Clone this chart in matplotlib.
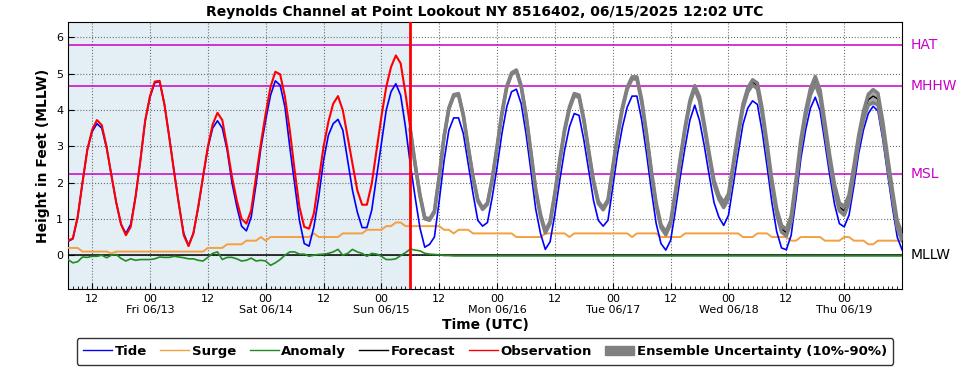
import numpy as np
import pandas as pd
import matplotlib
matplotlib.use('Agg')  # no display
import matplotlib.pyplot as plt
from matplotlib.lines import Line2D
from matplotlib.patches import Patch

# hours relative to 2025-06-12 12:00 UTC
hours = np.arange(-5, 169)
obs_end = 66

tide = [
    0.38, 0.45, 1.05, 2.0, 2.9, 3.4, 3.62, 3.5, 2.95, 2.2, 1.45, 0.85,
    0.6, 0.85, 1.6, 2.6, 3.7, 4.35, 4.75, 4.78, 4.15, 3.25, 2.3, 1.4,
    0.6, 0.27, 0.6, 1.3, 2.15, 2.95, 3.5, 3.7, 3.5, 2.9, 2.0, 1.35,
    0.8, 0.67, 1.05, 1.95, 2.95, 3.72, 4.4, 4.8, 4.68, 4.08, 2.98, 1.97,
    0.96, 0.32, 0.25, 0.78, 1.6, 2.6, 3.3, 3.62, 3.74, 3.44, 2.61, 1.79,
    1.19, 0.76, 0.76, 1.24, 2.16, 3.07, 3.99, 4.5, 4.72, 4.4, 3.53, 2.5,
    1.6, 0.75, 0.22, 0.3, 0.5, 1.5, 2.6, 3.44, 3.78, 3.78, 3.35, 2.52,
    1.7, 0.96, 0.8, 0.9, 1.6, 2.43, 3.35, 4.08, 4.5, 4.57, 4.17, 3.35,
    2.34, 1.28, 0.6, 0.16, 0.37, 1.15, 2.06, 2.89, 3.53, 3.9, 3.85, 3.17,
    2.34, 1.51, 0.96, 0.8, 0.96, 1.88, 2.8, 3.53, 4.08, 4.38, 4.38, 3.72,
    2.8, 1.79, 0.87, 0.32, 0.14, 0.41, 1.24, 2.16, 2.98, 3.72, 4.13, 3.7,
    3.0, 2.2, 1.45, 1.05, 0.82, 1.1, 1.95, 2.8, 3.6, 4.05, 4.25, 4.15,
    3.4, 2.45, 1.45, 0.65, 0.2, 0.15, 0.55, 1.55, 2.65, 3.45, 4.05, 4.35,
    3.97, 3.1, 2.2, 1.4, 0.87, 0.78, 1.1, 1.9, 2.8, 3.45, 3.9, 4.1,
    3.97, 3.2, 2.25, 1.33, 0.5, 0.15,
]

observation = [
    0.4, 0.46, 1.05, 2.0, 2.9, 3.45, 3.72, 3.58, 2.98, 2.2, 1.45, 0.85,
    0.55, 0.78, 1.6, 2.6, 3.7, 4.38, 4.78, 4.8, 4.15, 3.25, 2.3, 1.4,
    0.55, 0.25, 0.6, 1.33, 2.16, 2.98, 3.6, 3.92, 3.72, 2.98, 2.16, 1.51,
    1.0, 0.87, 1.24, 2.16, 3.07, 3.9, 4.63, 5.05, 4.98, 4.36, 3.44, 2.34,
    1.33, 0.78, 0.73, 1.15, 2.06, 2.98, 3.67, 4.17, 4.38, 3.99, 3.26, 2.52,
    1.79, 1.39, 1.39, 1.97, 2.89, 3.81, 4.63, 5.18, 5.5, 5.28, 4.45, 3.5,
]

surge = [
    0.2, 0.2, 0.2, 0.1, 0.1, 0.1, 0.1, 0.1, 0.1, 0.05, 0.1, 0.1,
    0.1, 0.1, 0.1, 0.1, 0.1, 0.1, 0.1, 0.1, 0.1, 0.1, 0.1, 0.1,
    0.1, 0.1, 0.1, 0.1, 0.1, 0.2, 0.2, 0.2, 0.2, 0.3, 0.3, 0.3,
    0.3, 0.4, 0.4, 0.4, 0.5, 0.4, 0.5, 0.5, 0.5, 0.5, 0.5, 0.5,
    0.5, 0.5, 0.5, 0.6, 0.5, 0.5, 0.5, 0.5, 0.5, 0.6, 0.6, 0.6,
    0.6, 0.6, 0.7, 0.7, 0.7, 0.7, 0.8, 0.8, 0.9, 0.9, 0.8, 0.8,
    0.8, 0.8, 0.8, 0.8, 0.8, 0.8, 0.7, 0.7, 0.6, 0.7, 0.7, 0.7,
    0.6, 0.6, 0.6, 0.6, 0.6, 0.6, 0.6, 0.6, 0.6, 0.5, 0.5, 0.5,
    0.5, 0.5, 0.5, 0.6, 0.6, 0.6, 0.6, 0.6, 0.5, 0.6, 0.6, 0.6,
    0.6, 0.6, 0.6, 0.6, 0.6, 0.6, 0.6, 0.6, 0.6, 0.5, 0.6, 0.6,
    0.6, 0.6, 0.6, 0.5, 0.5, 0.5, 0.5, 0.5, 0.6, 0.6, 0.6, 0.6,
    0.6, 0.6, 0.6, 0.6, 0.6, 0.6, 0.6, 0.6, 0.5, 0.5, 0.5, 0.6,
    0.6, 0.6, 0.5, 0.5, 0.5, 0.5, 0.4, 0.4, 0.5, 0.5, 0.5, 0.5,
    0.5, 0.4, 0.4, 0.4, 0.4, 0.5, 0.5, 0.4, 0.4, 0.4, 0.3, 0.3,
    0.4, 0.4, 0.4, 0.4, 0.4, 0.4,
]

anomaly = [
    -0.12, -0.21, -0.18, -0.05, -0.06, -0.03, -0.03, 0.0, -0.07, 0.0, 0.02, -0.09,
    -0.16, -0.1, -0.14, -0.12, -0.12, -0.12, -0.1, -0.05, -0.06, -0.06, -0.03, -0.05,
    -0.07, -0.1, -0.1, -0.14, -0.16, -0.06, 0.05, 0.09, -0.12, -0.06, -0.06, -0.1,
    -0.16, -0.14, -0.08, -0.16, -0.14, -0.16, -0.28, -0.21, -0.12, 0.0, 0.09, 0.09,
    0.03, 0.03, -0.03, 0.0, 0.02, 0.03, 0.05, 0.09, 0.16, 0.0, 0.05, 0.16,
    0.09, 0.05, -0.03, 0.05, 0.03, -0.03, -0.12, -0.12, -0.1, -0.01, 0.07, 0.17,
    0.14, 0.12, 0.05, 0.03, 0.02, 0.01, -0.01, -0.01, -0.02, -0.02, -0.02, -0.02,
    -0.02, -0.02, -0.02, -0.02, -0.02, -0.02, -0.02, -0.02, -0.02, -0.02, -0.02, -0.02,
    -0.02, -0.02, -0.02, -0.02, -0.02, -0.02, -0.02, -0.02, -0.02, -0.02, -0.02, -0.02,
    -0.02, -0.02, -0.02, -0.02, -0.02, -0.02, -0.02, -0.02, -0.02, -0.02, -0.02, -0.02,
    -0.02, -0.02, -0.02, -0.02, -0.02, -0.02, -0.02, -0.02, -0.02, -0.02, -0.02, -0.02,
    -0.02, -0.02, -0.02, -0.02, -0.02, -0.02, -0.02, -0.02, -0.02, -0.02, -0.02, -0.02,
    -0.02, -0.02, -0.02, -0.02, -0.02, -0.02, -0.02, -0.02, -0.02, -0.02, -0.02, -0.02,
    -0.02, -0.02, -0.02, -0.02, -0.02, -0.02, -0.02, -0.02, -0.02, -0.02, -0.02, -0.02,
    -0.02, -0.02, -0.02, -0.02, -0.02, -0.02,
]

# forecast from hour 66 to 168
forecast = [
    3.45, 2.5, 1.65, 1.02, 0.98, 1.2, 2.16, 3.26, 4.04, 4.4, 4.43, 3.85,
    2.98, 2.16, 1.51, 1.28, 1.42, 2.1, 2.98, 3.9, 4.63, 5.0, 5.08, 4.65,
    3.85, 2.84, 1.8, 1.1, 0.64, 0.9, 1.7, 2.6, 3.44, 4.05, 4.42, 4.38,
    3.72, 2.86, 2.03, 1.45, 1.28, 1.5, 2.4, 3.3, 4.05, 4.6, 4.88, 4.88,
    4.25, 3.32, 2.3, 1.4, 0.8, 0.6, 0.9, 1.72, 2.64, 3.5, 4.22, 4.63,
    4.3, 3.55, 2.75, 2.0, 1.6, 1.38, 1.62, 2.48, 3.33, 4.1, 4.55, 4.76,
    4.66, 3.95, 3.0, 2.0, 1.2, 0.73, 0.62, 1.0, 2.0, 3.1, 3.9, 4.5,
    4.82, 4.45, 3.55, 2.65, 1.85, 1.33, 1.22, 1.55, 2.35, 3.2, 3.85, 4.28,
    4.38, 4.3, 3.55, 2.6, 1.7, 0.85, 0.5,
]

# half width of the 10%-90% ensemble band
ens_spread = [
    0.02, 0.02, 0.02, 0.02, 0.02, 0.02, 0.02, 0.02, 0.02, 0.02, 0.02, 0.02,
    0.02, 0.02, 0.02, 0.02, 0.02, 0.02, 0.02, 0.02, 0.02, 0.02, 0.02, 0.02,
    0.03, 0.03, 0.03, 0.03, 0.03, 0.03, 0.03, 0.03, 0.03, 0.03, 0.03, 0.03,
    0.03, 0.03, 0.03, 0.03, 0.03, 0.03, 0.03, 0.03, 0.03, 0.03, 0.03, 0.03,
    0.04, 0.04, 0.04, 0.04, 0.04, 0.04, 0.04, 0.04, 0.04, 0.04, 0.04, 0.04,
    0.06, 0.06, 0.06, 0.06, 0.06, 0.07, 0.07, 0.06, 0.06, 0.06, 0.06, 0.07,
    0.08, 0.08, 0.08, 0.08, 0.08, 0.09, 0.09, 0.08, 0.08, 0.08, 0.08, 0.09,
    0.1, 0.1, 0.1, 0.1, 0.1, 0.11, 0.12, 0.11, 0.1, 0.1, 0.12, 0.15,
    0.18, 0.16, 0.14, 0.12, 0.1, 0.1, 0.1,
]

datum_names = ['HAT', 'MHHW', 'MSL', 'MLLW']
datum_values = [5.8, 4.67, 2.24, 0.0]
datum_colors = ['#c800c8', '#c800c8', '#c800c8', 'black']

fig = plt.figure(figsize=(9.69, 3.70), dpi=100)
ax = fig.add_axes([0.0702, 0.219, 0.8607, 0.7215])

ax.axvspan(hours[0], obs_end, color='#e3eef5', zorder=0)
ax.grid(True, which='major', linestyle=':', color='#707070', lw=0.8, zorder=1)

for name, val, col in zip(datum_names, datum_values, datum_colors):
    ax.axhline(val, color=col, lw=1.1, zorder=2)
    ax.text(1.01, val, name, transform=ax.get_yaxis_transform(), color=col,
            fontsize=10, va='center', ha='left')

ax.plot(hours, surge, color='#f5a040', lw=1.4, zorder=3)
ax.plot(hours, anomaly, color='#228b22', lw=1.2, zorder=3)
ax.plot(hours, tide, color='blue', lw=1.2, zorder=4)

fc_hours = hours[hours >= obs_end]
fc = np.array(forecast)
spread = np.array(ens_spread)
ax.fill_between(fc_hours, fc - spread, fc + spread, color='#a8a8a8', lw=0, zorder=5)
ax.plot(fc_hours, fc, color='black', lw=1.0, zorder=6)
ax.plot(fc_hours, fc - spread, color='#808080', lw=2.5, zorder=7)
ax.plot(fc_hours, fc + spread, color='#808080', lw=2.5, zorder=7)

ax.plot(hours[hours <= obs_end], observation, color='red', lw=1.5, zorder=8)
ax.axvline(obs_end, color='red', lw=2, zorder=9)

ax.set_xlim(-5, 168)
ax.set_ylim(-0.93, 6.42)

base = pd.Timestamp('2025-06-12 12:00')
major = np.arange(0, 168, 12)
labels = []
for h in major:
    t = base + pd.Timedelta(hours=int(h))
    labels.append('12' if t.hour == 12 else t.strftime('00\n%a %m/%d'))
ax.set_xticks(major)
ax.set_xticklabels(labels, fontsize=8)
ax.set_xticks(np.arange(-5, 169), minor=True)
ax.set_yticks(range(0, 7))
ax.tick_params(axis='y', labelsize=8)
ax.tick_params(which='major', direction='in', length=4)
ax.tick_params(which='minor', direction='in', length=2)

ax.set_title('Reynolds Channel at Point Lookout NY 8516402, 06/15/2025 12:02 UTC',
             fontsize=10, fontweight='bold', pad=4)
ax.set_xlabel('Time (UTC)', fontsize=10, fontweight='bold', labelpad=2)
ax.set_ylabel('Height in Feet (MLLW)', fontsize=10, fontweight='bold')

handles = [
    Line2D([], [], color='blue', lw=1),
    Line2D([], [], color='#f5a040', lw=1),
    Line2D([], [], color='#228b22', lw=1),
    Line2D([], [], color='black', lw=1),
    Line2D([], [], color='red', lw=1),
    Patch(facecolor='#808080', edgecolor='#808080'),
]
names = ['Tide', 'Surge', 'Anomaly', 'Forecast', 'Observation',
         'Ensemble Uncertainty (10%-90%)']
leg = ax.legend(handles, names, loc='upper center', bbox_to_anchor=(0.5, -0.185),
                ncol=6, prop={'weight': 'bold', 'size': 9.5}, frameon=True,
                fancybox=True, edgecolor='black', handlelength=2.2,
                handletextpad=0.2, columnspacing=1.0, borderaxespad=0,
                borderpad=0.5)
leg.get_frame().set_linewidth(1.0)

fig.savefig('out.png', dpi=100)
